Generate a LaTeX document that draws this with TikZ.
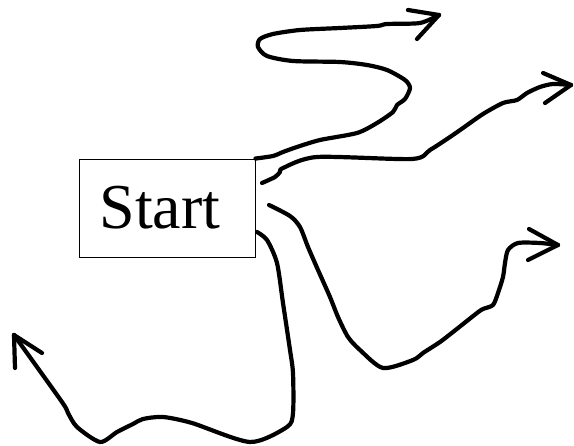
\documentclass[tikz,border=0pt]{standalone}
\usepackage{fontspec}
\setmainfont{Liberation Serif}
\begin{document}
\begin{tikzpicture}[x=1pt,y=-1pt,
  stroke/.style={line width=4.2pt,line cap=round,line join=round},
  boxstyle/.style={draw,line width=0.9pt,minimum width=176pt,minimum height=98pt,inner sep=0pt,font=\fontsize{64}{64}\selectfont}]
\useasboundingbox (0,0) rectangle (574,446);
\node[boxstyle] (start) at (167,208) {\hspace*{-14pt}Start};
% free ends (arrow tips)
\coordinate (t1) at (439,15);
\coordinate (t2) at (571,85);
\coordinate (t3) at (558,245);
\coordinate (t4) at (14,335);
% curve 1 (snake to top)
\draw[stroke] plot[smooth,tension=0.45] coordinates {(start.north east) (273,156) (283,152) (297,147) (320,140) (357,133) (377,123) (393,112) (397,105) (405,99) (410,88) (405,80) (387,70) (367,65) (340,62) (293,61) (267,56) (258,47) (260,39) (273,34) (300,30) (340,28) (377,26) (387,24) (420,23) (t1)};
\draw[stroke] (t1) -- (408,10);
\draw[stroke] (t1) -- (417,39);
% curve 2
\draw[stroke] plot[smooth,tension=0.45] coordinates {(262,183) (275,177) (280,172) (283,168) (317,157) (412,159) (430,150) (450,137) (463,128) (483,114) (503,103) (517,100) (527,93) (540,87) (553,84) (t2)};
\draw[stroke] (t2) -- (543,73);
\draw[stroke] (t2) -- (545,103);
% curve 3
\draw[stroke] plot[smooth,tension=0.45] coordinates {(269,205) (290,216) (300,227) (308,247) (318,270) (330,297) (338,317) (348,337) (360,350) (383,368) (413,360) (423,353) (440,342) (453,332) (477,313) (483,309) (493,305) (498,293) (503,277) (505,263) (508,250) (518,243) (540,243) (t3)};
\draw[stroke] (t3) -- (529,229);
\draw[stroke] (t3) -- (528,260);
% curve 4
\draw[stroke] plot[smooth,tension=0.45] coordinates {(257,232) (267,240) (277,263) (283,303) (290,350) (293,373) (293,413) (287,427) (250,442) (192,423) (163,417) (143,419) (133,424) (117,432) (100,442) (77,427) (68,413) (62,402) (t4)};
\draw[stroke] (t4) -- (15,368);
\draw[stroke] (t4) -- (42,353);
\end{tikzpicture}
\end{document}
